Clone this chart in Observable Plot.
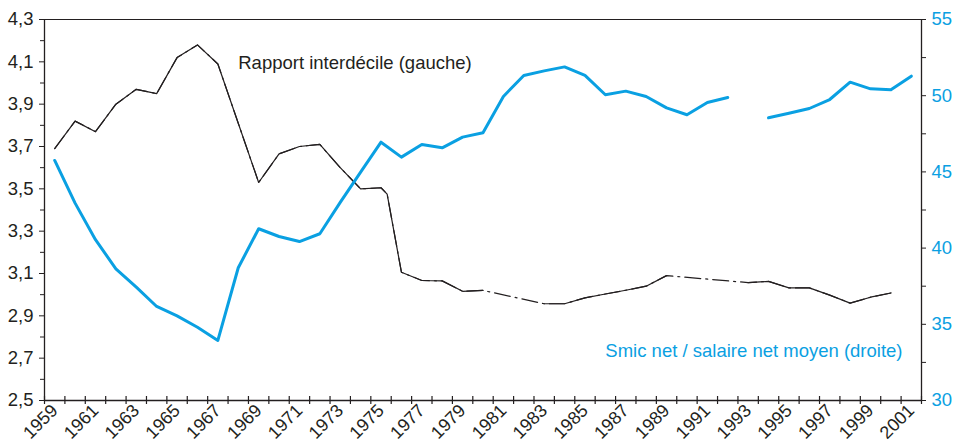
<!DOCTYPE html>
<html><head><meta charset="utf-8">
<script src="https://cdn.jsdelivr.net/npm/d3@7"></script>
<script src="https://cdn.jsdelivr.net/npm/@observablehq/plot@0.6"></script>
<style>body{margin:0;background:#fff}</style>
</head><body><div id="chart"></div>
<script>
// Rapport interdécile (axe gauche) — NaN = année non disponible (tracé en tirets)
const interdecileYears = [1959,1960,1961,1962,1963,1964,1965,1966,1967,1968,1969,1970,1971,1972,1973,1974,1975,1975.3,1976,1977,1978,1979,1980,1981,1982,1983,1984,1985,1986,1987,1988,1989,1990,1991,1992,1993,1994,1995,1996,1997,1998,1999,2000];
const interdecile = [3.69,3.82,3.77,3.90,3.97,3.95,4.12,4.18,4.09,3.81,3.53,3.665,3.70,3.71,3.60,3.50,3.505,3.475,3.106,3.067,3.065,3.016,3.02,NaN,NaN,2.957,2.957,2.985,3.003,3.021,3.04,3.09,NaN,NaN,NaN,3.057,3.063,3.032,3.032,2.998,2.96,2.988,3.008];

// Smic net / salaire net moyen, en % (axe droit)
const smicYears = [1959,1960,1961,1962,1963,1964,1965,1966,1967,1968,1969,1970,1971,1972,1973,1974,1975,1976,1977,1978,1979,1980,1981,1982,1983,1984,1985,1986,1987,1988,1989,1990,1991,1992,1993,1994,1995,1996,1997,1998,1999,2000,2001];
const smicRatio = [45.75,42.95,40.55,38.64,37.44,36.17,35.55,34.81,33.94,38.71,41.27,40.76,40.43,40.94,43.0,44.98,46.95,45.97,46.8,46.58,47.28,47.57,49.95,51.33,51.63,51.89,51.33,50.06,50.3,49.95,49.2,48.75,49.55,49.88,NaN,48.55,48.85,49.16,49.75,50.89,50.45,50.39,51.28];

// Axes
const xLabelYears = [1959,1961,1963,1965,1967,1969,1971,1973,1975,1977,1979,1981,1983,1985,1987,1989,1991,1993,1995,1997,1999,2001];
const allYears = d3.range(1959, 2002);
const leftTicks = [2.5,2.7,2.9,3.1,3.3,3.5,3.7,3.9,4.1,4.3];
const leftMinor = [2.6,2.8,3.0,3.2,3.4,3.6,3.8,4.0,4.2];
const rightTicks = [30,35,40,45,50,55];
const rightMinor = [32.5,37.5,42.5,47.5,52.5];

const LEFT = [2.5, 4.3], RIGHT = [30, 55];
const toLeft = v => LEFT[0] + (v - RIGHT[0]) * (LEFT[1] - LEFT[0]) / (RIGHT[1] - RIGHT[0]);
const fromLeft = v => RIGHT[0] + (v - LEFT[0]) * (RIGHT[1] - RIGHT[0]) / (LEFT[1] - LEFT[0]);

const BLACK = "#231f20", BLUE = "#0aa0e2";
const blackRows = interdecileYears.map((y, i) => ({year: y, v: interdecile[i]}));
const blackDefined = blackRows.filter(d => !isNaN(d.v));
const blueRows = smicYears.map((y, i) => ({year: y, v: smicRatio[i]}));
const edges = [...allYears.map(y => y - 0.5), allYears[allYears.length - 1] + 0.5];
const xDom = [edges[0], edges[edges.length - 1]];

const chart = Plot.plot({
  width: 954, height: 448,
  marginLeft: 44, marginRight: 33, marginTop: 19, marginBottom: 48,
  style: {fontFamily: "'Liberation Sans', Arial, Helvetica, sans-serif", fontSize: "18px", color: BLACK, background: "#fff"},
  x: {domain: xDom, label: null},
  y: {domain: LEFT, label: null},
  marks: [
    Plot.ruleY([LEFT[1]], {stroke: BLACK, strokeWidth: 1.2}),
    Plot.ruleX([xDom[0], xDom[1]], {stroke: BLACK, strokeWidth: 1.3}),
    Plot.ruleY([LEFT[0]], {stroke: BLACK, strokeWidth: 1.6}),
    Plot.axisX(edges, {tickSize: 8, dy: -4, tickFormat: () => "", stroke: BLACK, strokeWidth: 1.2}),
    Plot.axisX(xLabelYears, {tickSize: 0, tickRotate: -45, tickPadding: 7, tickFormat: d => String(d), fontSize: 18, fill: BLACK}),
    Plot.axisY(leftTicks, {anchor: "left", tickSize: 5, tickPadding: 6, tickFormat: d => d.toFixed(1).replace(".", ","), fontSize: 18.5, fill: BLACK, stroke: BLACK}),
    Plot.axisY(leftMinor, {anchor: "left", tickSize: 4, tickFormat: () => "", stroke: BLACK}),
    Plot.axisY(rightTicks.map(toLeft), {anchor: "right", tickSize: 4, tickPadding: 6, tickFormat: d => String(Math.round(fromLeft(d))), fontSize: 18.5, fill: BLUE, stroke: BLACK}),
    Plot.axisY(rightMinor.map(toLeft), {anchor: "right", tickSize: 4, tickFormat: () => "", stroke: BLACK}),
    Plot.line(blackDefined, {x: "year", y: "v", stroke: BLACK, strokeWidth: 1.2, strokeDasharray: "16,5,2,5"}),
    Plot.line(blackRows, {x: "year", y: "v", stroke: BLACK, strokeWidth: 1.2}),
    Plot.line(blueRows, {x: "year", y: d => toLeft(d.v), stroke: BLUE, strokeWidth: 3}),
    Plot.text(["Rapport interdécile (gauche)"], {x: 1968.0, y: 4.064, textAnchor: "start", lineAnchor: "bottom", fontSize: 18.5, fill: BLACK}),
    Plot.text(["Smic net / salaire net moyen (droite)"], {x: 1986.0, y: toLeft(32.84), textAnchor: "start", lineAnchor: "bottom", fontSize: 18.5, fill: BLUE})
  ]
});
document.getElementById("chart").append(chart);
</script>
</body></html>
